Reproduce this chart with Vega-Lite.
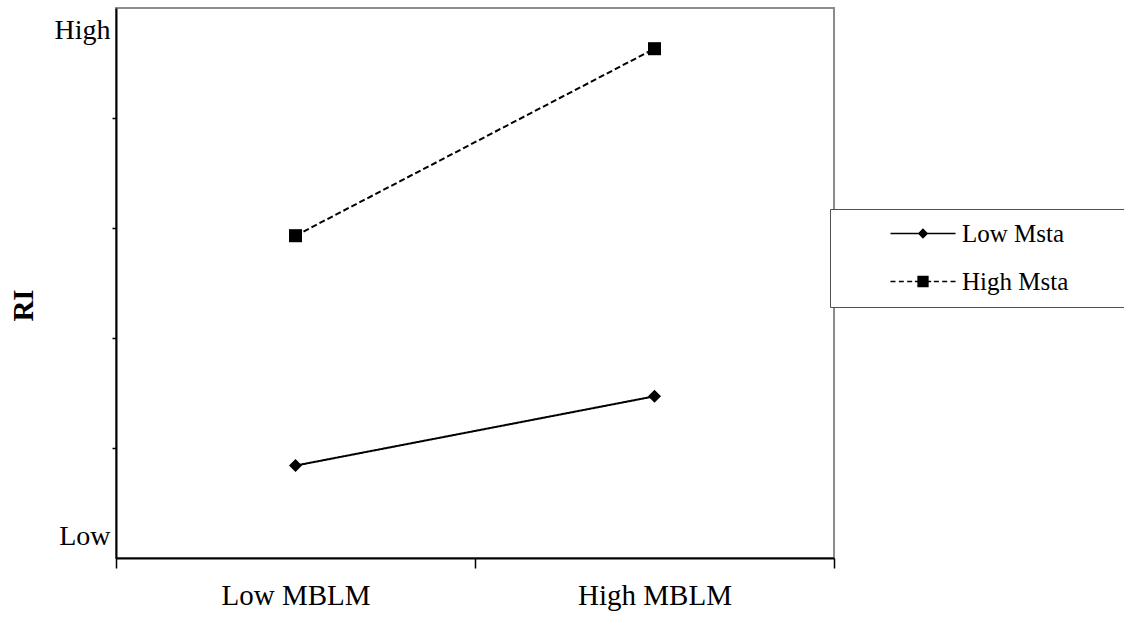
{
  "$schema": "https://vega.github.io/schema/vega-lite/v6.json",
  "width": 718,
  "height": 550,
  "autosize": {"type": "none"},
  "padding": {"left": 116, "top": 8, "right": 290, "bottom": 60},
  "background": "white",
  "config": {
    "view": {"stroke": "#8c8c8c", "strokeWidth": 2},
    "font": "Liberation Serif"
  },
  "data": {
    "values": [
      {"MBLM": "Low MBLM", "Msta": "Low Msta", "RI": 0.84},
      {"MBLM": "High MBLM", "Msta": "Low Msta", "RI": 1.47},
      {"MBLM": "Low MBLM", "Msta": "High Msta", "RI": 2.93},
      {"MBLM": "High MBLM", "Msta": "High Msta", "RI": 4.63}
    ]
  },
  "encoding": {
    "x": {
      "field": "MBLM",
      "type": "nominal",
      "sort": ["Low MBLM", "High MBLM"],
      "scale": {"type": "band", "paddingInner": 0, "paddingOuter": 0},
      "axis": {
        "title": null,
        "grid": false,
        "tickBand": "extent",
        "tickSize": 10,
        "tickColor": "black",
        "tickWidth": 1.5,
        "domainColor": "black",
        "domainWidth": 2,
        "labelAngle": 0,
        "labelFontSize": 29,
        "labelFont": "Liberation Serif",
        "labelColor": "black",
        "labelBaseline": "alphabetic",
        "labelPadding": 36
      }
    },
    "y": {
      "field": "RI",
      "type": "quantitative",
      "scale": {"domain": [0, 5], "nice": false, "zero": false},
      "axis": {
        "title": "RI",
        "titleFont": "Liberation Serif",
        "titleFontSize": 29,
        "titleFontWeight": "bold",
        "titleColor": "black",
        "titleX": -93,
        "titleY": 297,
        "titleAlign": "center",
        "titleBaseline": "middle",
        "grid": false,
        "values": [0.2, 1, 2, 3, 4, 4.8],
        "tickSize": 4,
        "tickColor": "black",
        "tickWidth": 1.5,
        "tickOpacity": {"condition": {"test": "datum.value == 0.2 || datum.value == 4.8", "value": 0}, "value": 1},
        "domainColor": "black",
        "domainWidth": 2,
        "labelExpr": "datum.value == 4.8 ? 'High' : (datum.value == 0.2 ? 'Low' : '')",
        "labelFontSize": 28,
        "labelFont": "Liberation Serif",
        "labelColor": "black",
        "labelBaseline": "middle",
        "labelPadding": 2,
        "labelOverlap": false,
        "labelFlush": false
      }
    }
  },
  "layer": [
    {
      "mark": {"type": "line", "color": "black", "strokeWidth": 2},
      "encoding": {
        "strokeDash": {
          "field": "Msta",
          "type": "nominal",
          "scale": {"domain": ["Low Msta", "High Msta"], "range": [[1, 0], [6, 3]]},
          "legend": null
        }
      }
    },
    {
      "mark": {"type": "point", "filled": true, "color": "black", "opacity": 1, "size": 170},
      "encoding": {
        "shape": {
          "field": "Msta",
          "type": "nominal",
          "scale": {"domain": ["Low Msta", "High Msta"], "range": ["diamond", "square"]},
          "legend": null
        }
      }
    },
    {
      "mark": {"type": "point", "filled": true, "color": "black", "opacity": 0},
      "encoding": {
        "shape": {
          "field": "Msta",
          "type": "nominal",
          "scale": {
            "domain": ["Low Msta", "High Msta"],
            "range": [
              "M-3,-0.075L3,-0.075L3,0.075L-3,0.075ZM0,-0.48L0.48,0L0,0.48L-0.48,0ZM20,0",
              "M-3,-0.075L-2.54,-0.075L-2.54,0.075L-3,0.075ZM-2.23,-0.075L-1.77,-0.075L-1.77,0.075L-2.23,0.075ZM-1.46,-0.075L-1,-0.075L-1,0.075L-1.46,0.075ZM-0.75,-0.075L-0.5,-0.075L-0.5,0.075L-0.75,0.075ZM0.5,-0.075L0.75,-0.075L0.75,0.075L0.5,0.075ZM1,-0.075L1.46,-0.075L1.46,0.075L1,0.075ZM1.77,-0.075L2.23,-0.075L2.23,0.075L1.77,0.075ZM2.54,-0.075L3,-0.075L3,0.075L2.54,0.075ZM-0.52,-0.52L0.52,-0.52L0.52,0.52L-0.52,0.52ZM20,0"
            ]
          },
          "legend": {
            "title": null,
            "orient": "none",
            "legendX": 714,
            "legendY": 201,
            "padding": 12,
            "fillColor": "white",
            "strokeColor": "#505050",
            "symbolSize": 470,
            "symbolOpacity": 1,
            "symbolFillColor": "black",
            "symbolStrokeWidth": 0,
            "symbolOffset": 68.5,
            "labelOffset": 26.5,
            "labelFontSize": 25,
            "labelFont": "Liberation Serif",
            "labelColor": "black",
            "labelLimit": 400,
            "rowPadding": 22,
            "encode": {
              "symbols": {
                "update": {
                  "fill": {"value": "black"},
                  "opacity": {"value": 1},
                  "fillOpacity": {"value": 1}
                }
              }
            }
          }
        }
      }
    }
  ],
  "resolve": {"scale": {"shape": "independent"}}
}
